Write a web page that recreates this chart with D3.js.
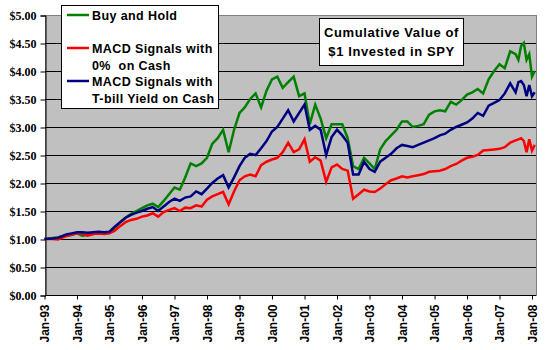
<!DOCTYPE html>
<html>
<head>
    <meta charset="utf-8" />
    <title>Cumulative Value of $1 Invested in SPY</title>
    <style>
        body { margin: 0; background: #fff; }
        .leg { font-family: "Liberation Sans", Arial, sans-serif; font-weight: bold; font-size: 12.5px; letter-spacing: 0.4px; }
        .ttl { font-family: "Liberation Sans", Arial, sans-serif; font-weight: bold; font-size: 13px; letter-spacing: 0.6px; }
    </style>
    <script src="https://cdn.jsdelivr.net/npm/d3@7"></script>
</head>
<body>
    <div id="chart"></div>
    <script>
        // month stamps and the three cumulative value series
        var months = ['1993-01','1993-04','1993-06','1993-09','1993-11','1994-01','1994-03','1994-05','1994-07','1994-09','1994-11',
            '1995-01','1995-03','1995-05','1995-07','1995-09','1995-11','1996-01','1996-03','1996-05','1996-07','1996-09','1996-11',
            '1997-01','1997-03','1997-05','1997-07','1997-09','1997-11','1998-01','1998-03','1998-05','1998-07','1998-09','1998-11',
            '1999-01','1999-03','1999-05','1999-07','1999-09','1999-11','2000-01','2000-03','2000-05','2000-07','2000-09','2000-11',
            '2001-01','2001-03','2001-05','2001-07','2001-09','2001-11','2002-01','2002-03','2002-05','2002-07','2002-09','2002-11',
            '2003-01','2003-03','2003-05','2003-07','2003-09','2003-11','2004-01','2004-03','2004-05','2004-07','2004-09','2004-11',
            '2005-01','2005-03','2005-05','2005-07','2005-09','2005-11','2006-01','2006-03','2006-05','2006-07','2006-09','2006-11',
            '2007-01','2007-03','2007-05','2007-07','2007-08','2007-09','2007-10','2007-11','2007-12','2008-01','2008-02'];

        var buyHold = [1.00,1.02,1.03,1.06,1.07,1.10,1.06,1.07,1.09,1.11,1.09,
            1.12,1.20,1.30,1.38,1.45,1.50,1.55,1.60,1.63,1.57,1.68,1.80,
            1.92,1.88,2.10,2.35,2.30,2.35,2.45,2.70,2.80,2.95,2.55,2.95,
            3.25,3.35,3.50,3.60,3.35,3.65,3.85,3.90,3.70,3.80,3.90,3.55,
            3.60,3.05,3.40,3.15,2.80,3.05,3.05,3.05,2.80,2.30,2.25,2.45,
            2.35,2.25,2.60,2.75,2.85,2.95,3.10,3.10,3.00,3.02,3.05,3.22,
            3.28,3.30,3.28,3.45,3.40,3.48,3.58,3.62,3.68,3.60,3.85,4.00,
            4.12,4.05,4.35,4.30,4.20,4.45,4.50,4.20,4.30,3.90,4.00];

        var macdCash = [1.00,1.00,0.99,1.05,1.08,1.10,1.10,1.06,1.09,1.10,1.09,
            1.10,1.15,1.23,1.30,1.34,1.36,1.40,1.42,1.46,1.40,1.48,1.52,
            1.55,1.50,1.56,1.55,1.60,1.58,1.70,1.76,1.80,1.84,1.62,1.85,
            2.05,2.12,2.15,2.12,2.32,2.38,2.42,2.45,2.55,2.72,2.55,2.60,
            2.78,2.38,2.46,2.40,2.02,2.28,2.33,2.25,2.22,1.72,1.80,1.88,
            1.85,1.84,1.90,1.98,2.05,2.08,2.12,2.10,2.12,2.14,2.16,2.20,
            2.21,2.22,2.25,2.30,2.34,2.40,2.45,2.47,2.50,2.58,2.59,2.60,
            2.61,2.64,2.72,2.76,2.78,2.80,2.75,2.55,2.78,2.58,2.68];

        var macdTbill = [1.00,1.01,1.02,1.08,1.10,1.12,1.12,1.11,1.12,1.13,1.12,
            1.13,1.22,1.30,1.38,1.43,1.47,1.50,1.54,1.57,1.50,1.58,1.66,
            1.72,1.68,1.74,1.76,1.85,1.80,1.90,2.00,2.08,2.14,1.92,2.10,
            2.30,2.45,2.52,2.50,2.62,2.75,2.92,3.00,3.15,3.30,3.10,3.25,
            3.40,2.95,3.02,2.95,2.50,2.82,2.95,2.85,2.72,2.15,2.15,2.38,
            2.25,2.20,2.38,2.45,2.52,2.62,2.68,2.66,2.64,2.68,2.72,2.76,
            2.80,2.85,2.88,2.95,3.00,3.04,3.08,3.15,3.25,3.20,3.38,3.43,
            3.48,3.60,3.78,3.62,3.80,3.82,3.75,3.55,3.75,3.55,3.62];

        var yTicks = [0, 0.5, 1, 1.5, 2, 2.5, 3, 3.5, 4, 4.5, 5];
        var xTickYears = d3.range(1993, 2009);

        var width = 550, height = 350;
        var plotLeft = 45, plotRight = 536, plotTop = 15, plotBottom = 295;

        var parseMonth = d3.timeParse('%Y-%m');
        var dates = months.map(parseMonth);

        var svg = d3.select('#chart').append('svg')
            .attr('width', width)
            .attr('height', height);

        var x = d3.scaleTime()
            .domain([new Date(1993, 0, 1), new Date(2008, 0, 1)])
            .range([44.5, 532]);

        var y = d3.scaleLinear()
            .domain([0, 5])
            .range([plotBottom, plotTop]);

        // plot area
        svg.append('rect')
            .attr('x', plotLeft + 0.5).attr('y', plotTop + 0.5)
            .attr('width', plotRight - plotLeft).attr('height', plotBottom - plotTop)
            .attr('fill', '#c0c0c0')
            .attr('stroke', '#808080');

        // gridlines
        svg.selectAll('.grid')
            .data(yTicks.filter(d => d > 0 && d < 5))
            .enter().append('line')
            .attr('x1', plotLeft).attr('x2', plotRight)
            .attr('y1', d => Math.round(y(d)) + 0.5)
            .attr('y2', d => Math.round(y(d)) + 0.5)
            .attr('stroke', '#000')
            .attr('stroke-width', 1);

        // y axis
        var yAxis = d3.axisLeft(y)
            .tickValues(yTicks)
            .tickSize(5)
            .tickPadding(4)
            .tickFormat(d => '$' + d3.format('.2f')(d));

        var gY = svg.append('g')
            .attr('transform', 'translate(' + (plotLeft + 0.5) + ',0.5)')
            .call(yAxis)
            .attr('font-family', '"Liberation Serif", "Times New Roman", serif')
            .attr('font-size', 12)
            .attr('font-weight', 'bold');
        gY.select('.domain').attr('stroke', '#000');
        gY.selectAll('text').attr('fill', '#000');

        // x axis
        var xAxis = d3.axisBottom(x)
            .tickValues(xTickYears.map(yr => new Date(yr, 0, 1)))
            .tickSize(4)
            .tickFormat(d3.timeFormat('%b-%y'));

        var gX = svg.append('g')
            .attr('transform', 'translate(0,' + (plotBottom + 0.5) + ')')
            .call(xAxis)
            .attr('font-family', '"Liberation Sans", Arial, sans-serif')
            .attr('font-size', 12)
            .attr('font-weight', 'bold');
        gX.select('.domain').attr('d', 'M' + plotLeft + ',0H' + plotRight).attr('stroke', '#000');
        gX.selectAll('text')
            .attr('fill', '#000')
            .attr('transform', 'rotate(-90)')
            .attr('text-anchor', 'end')
            .attr('x', -9)
            .attr('y', 0)
            .attr('dy', '0.35em');

        // lines
        var line = d3.line()
            .x((d, i) => x(dates[i]))
            .y(d => y(d));

        var series = [
            { values: buyHold, color: '#008000' },
            { values: macdCash, color: '#ff0000' },
            { values: macdTbill, color: '#000080' }
        ];

        svg.selectAll('.series')
            .data(series)
            .enter().append('path')
            .attr('d', d => line(d.values))
            .attr('fill', 'none')
            .attr('stroke', d => d.color)
            .attr('stroke-width', 2.5)
            .attr('stroke-linejoin', 'miter');

        // legend
        var legend = svg.append('g');
        legend.append('rect')
            .attr('x', 61.5).attr('y', 5.5)
            .attr('width', 157).attr('height', 103)
            .attr('fill', '#fff').attr('stroke', '#000');

        var legendItems = [
            { color: '#008000', y: 15, lines: ['Buy and Hold'] },
            { color: '#ff0000', y: 48, lines: ['MACD Signals with', '0%  on Cash'] },
            { color: '#000080', y: 81, lines: ['MACD Signals with', 'T-bill Yield on Cash'] }
        ];
        legendItems.forEach(function(item) {
            legend.append('line')
                .attr('x1', 67).attr('x2', 89)
                .attr('y1', item.y).attr('y2', item.y)
                .attr('stroke', item.color).attr('stroke-width', 2.5);
            item.lines.forEach(function(t, i) {
                legend.append('text')
                    .attr('class', 'leg')
                    .attr('x', 92)
                    .attr('y', item.y + 4.5 + i * 17)
                    .style('white-space', 'pre')
                    .text(t);
            });
        });

        // title box
        var title = svg.append('g');
        title.append('rect')
            .attr('x', 319.5).attr('y', 18.5)
            .attr('width', 144).attr('height', 47)
            .attr('fill', '#fff').attr('stroke', '#000');
        ['Cumulative Value of', '$1 Invested in SPY'].forEach(function(t, i) {
            title.append('text')
                .attr('class', 'ttl')
                .attr('x', 391.5)
                .attr('y', 37 + i * 19)
                .attr('text-anchor', 'middle')
                .text(t);
        });
    </script>
</body>
</html>
